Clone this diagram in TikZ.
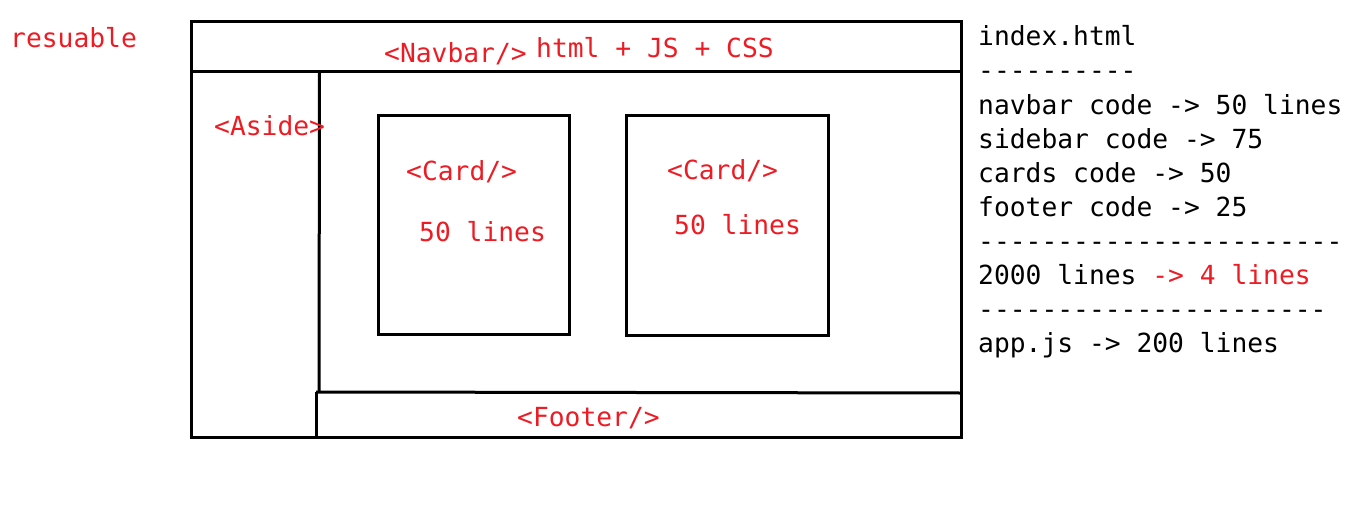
\documentclass[tikz,border=0pt]{standalone}
\usepackage{fontspec}
\setmonofont{DejaVu Sans Mono}
\usepackage{tikz}
\usetikzlibrary{positioning}
\usepackage{xcolor}
\definecolor{tagred}{RGB}{237,28,36}

\begin{document}
\begin{tikzpicture}[x=1pt, y=-1pt,
  tag/.style={anchor=base west, inner sep=0pt, text=tagred, font=\ttfamily\fontsize{26.3}{34}\selectfont},
  note/.style={tag, text=black},
  frame/.style={draw=black, line width=3pt}]
\useasboundingbox (0,0) rectangle (1355,519);

% Page layout
\draw[frame] (191,22) rectangle (961,437);
\draw[frame] (191,72) -- (961,72);
\draw[frame] (319.5,71) -- (319,392);
\draw[frame] (316,392) -- (316,438);
\draw[frame] (316,392) -- (961,393);

% Cards
\draw[frame] (378,115) rectangle (569,334);
\draw[frame] (626,115) rectangle (828,335);

% Component labels
\node[tag] (reuse) at (10,48) {resuable};
\node[tag] (navbar) at (384,63) {<Navbar/>};
\node[tag] (stack) at (536,58) {html + JS + CSS};
\node[tag] (aside) at (214,135) {<Aside>};
\node[tag] (card1) at (406,180) {<Card/>};
\node[tag] (lines1) at (419,241) {50 lines};
\node[tag] (card2) at (667,179) {<Card/>};
\node[tag] (lines2) at (674,234) {50 lines};
\node[tag] (footer) at (517,426) {<Footer/>};

% Line count notes
\node[note] (index) at (978,46) {index.html};
\node[note] (rule1) at (978,80) {----------};
\node[note] (navcode) at (978,114) {navbar code -> 50 lines};
\node[note] (sidecode) at (978,148) {sidebar code -> 75};
\node[note] (cardcode) at (978,182) {cards code -> 50};
\node[note] (footcode) at (978,216) {footer code -> 25};
\node[note] (rule2) at (978,250) {-----------------------};
\node[note] (total) at (978,284) {2000 lines \textcolor{tagred}{-> 4 lines}};
\node[note] (rule3) at (978,318) {----------------------};
\node[note] (appjs) at (978,352) {app.js -> 200 lines};
\end{tikzpicture}
\end{document}
